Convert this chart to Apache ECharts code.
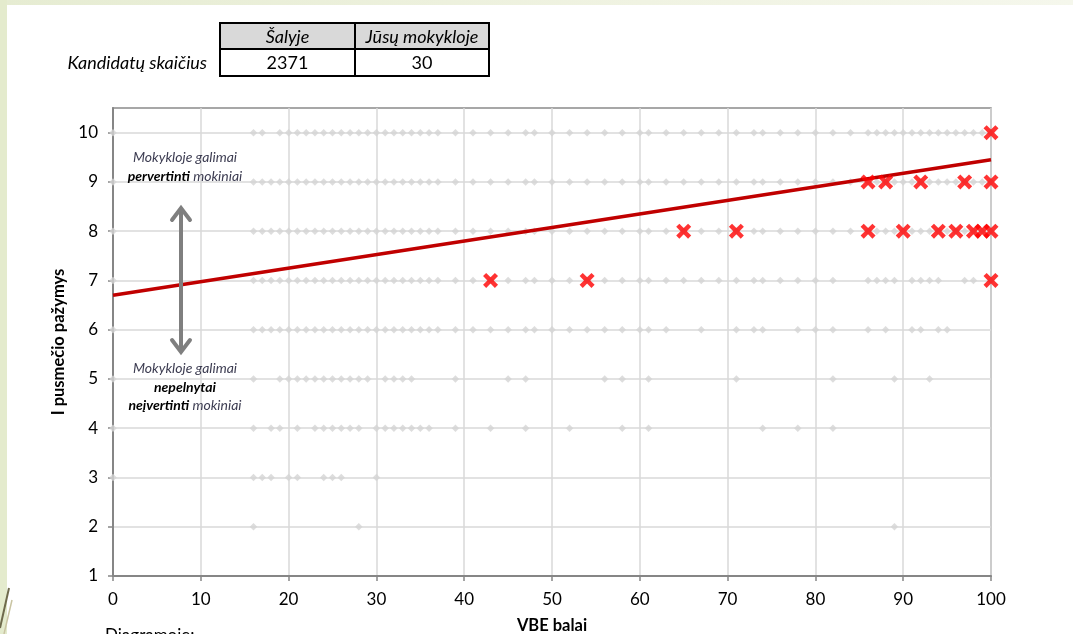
<!DOCTYPE html>
<html>
<head>
<meta charset="utf-8">
<script src="https://cdn.jsdelivr.net/npm/echarts@6/dist/echarts.min.js"></script>
<style>
  html, body { margin: 0; padding: 0; background: #ffffff; }
  #wrap { position: relative; width: 1073px; height: 634px; overflow: hidden; background: #ffffff; }
  #topband { position: absolute; left: 0; top: 0; width: 1073px; height: 5px; background: linear-gradient(90deg, #e6ecd2, #f0f3e2 60%, #f5f7ec); }
  #leftband { position: absolute; left: 0; top: 0; width: 7px; height: 634px; background: #e4ebcd; }
  #chart { position: absolute; left: 0; top: 0; width: 1073px; height: 634px; }
</style>
</head>
<body>
<div id="wrap">
  <div id="topband"></div>
  <div id="leftband"></div>
  <div id="chart"></div>
</div>
<script>
// ---- data ----
const xTicks = [0, 10, 20, 30, 40, 50, 60, 70, 80, 90, 100];
const yTicks = [1, 2, 3, 4, 5, 6, 7, 8, 9, 10];

// Country (grey) : VBE scores present for each semester grade
const grade10 = [0,16,17,19,20,21,22,23,24,25,26,27,28,29,30,31,32,33,34,35,36,37,39,41,43,45,47,48,50,52,54,56,58,60,61,63,65,67,69,71,73,74,76,78,80,82,84,86,87,88,89,90,91,92,93,94,95,96,97,98,99,100];
const grade9  = [0,16,17,18,19,20,21,22,23,24,25,26,27,28,29,30,31,32,33,34,35,36,37,39,41,43,45,47,48,50,52,54,56,58,60,61,63,65,67,69,71,73,74,76,78,80,82,84,86,87,88,89,90,91,92,93,94,95,96,97,98,99,100];
const grade8  = [0,16,17,18,19,20,21,22,23,24,25,26,27,28,29,30,31,32,33,34,35,36,37,39,41,43,45,47,48,50,52,54,56,58,60,61,63,65,67,69,71,73,74,76,78,80,82,84,86,87,88,89,90,91,92,93,94,95,96,97,98,99,100];
const grade7  = [0,16,17,18,19,20,21,22,23,24,25,26,27,28,29,30,31,32,33,34,35,36,37,39,41,43,45,47,48,50,52,54,56,58,60,61,63,65,67,69,71,73,74,76,78,80,82,86,87,88,89,91,92,93,94,97,98,100];
const grade6  = [0,16,17,18,19,20,21,22,23,24,25,26,27,28,29,30,31,32,33,34,35,36,37,39,41,43,45,47,48,50,52,54,56,58,60,61,63,67,71,73,74,78,80,82,86,88,91,92,94,95];
const grade5  = [0,16,19,20,21,22,23,24,25,26,27,28,29,31,32,33,34,39,45,47,56,58,61,71,82,89,93];
const grade4  = [0,16,18,19,21,23,24,25,26,27,28,30,31,32,33,34,35,36,39,43,47,52,58,61,74,78,82];
const grade3  = [0,16,17,18,20,21,24,25,26,30];
const grade2  = [16,28,89];

// Your school (red crosses)
const school10 = [100];
const school9  = [86,88,92,97,100];
const school8  = [65,71,86,90,94,96,98,99,100];
const school7  = [43,54,100];

// Trend line end points
const trendX = [0, 100];
const trendY = [6.70, 9.45];

// Table
const tableHead = ['Šalyje', 'Jūsų mokykloje'];
const tableRowLabel = 'Kandidatų skaičius';
const tableValues = ['2371', '30'];

// ---- build ----
const countryRows = [[10, grade10],[9, grade9],[8, grade8],[7, grade7],[6, grade6],[5, grade5],[4, grade4],[3, grade3],[2, grade2]];
const schoolRows = [[10, school10],[9, school9],[8, school8],[7, school7]];
const countryData = [];
countryRows.forEach(([g, xs]) => xs.forEach(x => countryData.push([x, g])));
const schoolData = [];
schoolRows.forEach(([g, xs]) => xs.forEach(x => schoolData.push([x, g])));
const trendData = trendX.map((x, i) => [x, trendY[i]]);

const FONT = 'Lato, "Open Sans", sans-serif';
const crossPath = 'path://M0,2.1 L2.1,0 L5,2.9 L7.9,0 L10,2.1 L7.1,5 L10,7.9 L7.9,10 L5,7.1 L2.1,10 L0,7.9 L2.9,5 Z';

const chart = echarts.init(document.getElementById('chart'), null, { renderer: 'canvas' });

// table geometry (layout)
const tL = 220, tM = 355, tR = 489, tT = 23, tMid = 49, tB = 76;
const annoColor = '#3d3d52';
const annoSize = 14;
const annoX = 185;

const option = {
  animation: false,
  backgroundColor: 'transparent',
  textStyle: { fontFamily: FONT },
  grid: {
    left: 113, right: 82, top: 108, bottom: 58,
    outerBoundsMode: 'none', containLabel: false,
    show: true, borderColor: '#8a8a8a', borderWidth: 1.5, backgroundColor: '#ffffff'
  },
  xAxis: {
    type: 'value', min: 0, max: 100, interval: 10,
    name: 'VBE balai', nameLocation: 'middle', nameGap: 41,
    nameTextStyle: { fontFamily: FONT, fontSize: 16.5, fontWeight: 'bold', color: '#000' },
    axisLine: { show: true, onZero: false, lineStyle: { color: '#868686', width: 2 } },
    axisTick: { show: true, length: 5, lineStyle: { color: '#868686', width: 1.5 } },
    axisLabel: { fontFamily: FONT, fontSize: 17, color: '#000', margin: 15 },
    splitLine: { show: true, lineStyle: { color: '#d9d9d9', width: 1.5 } }
  },
  yAxis: {
    type: 'value', min: 1, max: 10.5, interval: 1,
    name: 'I pusmečio pažymys', nameLocation: 'middle', nameGap: 32, nameRotate: 90,
    nameTextStyle: { fontFamily: FONT, fontSize: 16.5, fontWeight: 'bold', color: '#000' },
    axisLine: { show: true, onZero: false, lineStyle: { color: '#868686', width: 2 } },
    axisTick: { show: true, length: 5, customValues: yTicks, lineStyle: { color: '#868686', width: 1.5 } },
    axisLabel: { fontFamily: FONT, fontSize: 17, color: '#000', margin: 15, customValues: yTicks,
      formatter: v => (v > 10 ? '' : String(v)) },
    splitLine: { show: true, lineStyle: { color: '#d9d9d9', width: 1.5 } }
  },
  series: [
    {
      name: 'Šalyje', type: 'scatter', data: countryData,
      symbol: 'diamond', symbolSize: 7.5, clip: false,
      itemStyle: { color: '#d4d4d4' }, z: 2
    },
    {
      name: 'Trend', type: 'line', data: trendData, showSymbol: false, symbol: 'none',
      lineStyle: { color: '#c00000', width: 3.5 }, z: 3, silent: true
    },
    {
      name: 'Jūsų mokykloje', type: 'scatter', data: schoolData,
      symbol: crossPath, symbolSize: 15, clip: false,
      itemStyle: { color: '#ff0000' }, z: 4
    }
  ],
  graphic: [
    // table
    { type: 'rect', shape: { x: tL, y: tT, width: tR - tL, height: tMid - tT }, style: { fill: '#d9d9d9' }, z: 10 },
    { type: 'rect', shape: { x: tL, y: tT, width: tR - tL, height: tB - tT }, style: { fill: 'none', stroke: '#000', lineWidth: 2 }, z: 11 },
    { type: 'line', shape: { x1: tL, y1: tMid, x2: tR, y2: tMid }, style: { stroke: '#000', lineWidth: 2 }, z: 11 },
    { type: 'line', shape: { x1: tM, y1: tT, x2: tM, y2: tB }, style: { stroke: '#000', lineWidth: 2 }, z: 11 },
    { type: 'text', x: (tL + tM) / 2, y: (tT + tMid) / 2 + 1, style: { text: tableHead[0], fontFamily: FONT, fontSize: 18, fontStyle: 'italic', fill: '#000', align: 'center', verticalAlign: 'middle' }, z: 12 },
    { type: 'text', x: (tM + tR) / 2, y: (tT + tMid) / 2 + 1, style: { text: tableHead[1], fontFamily: FONT, fontSize: 18, fontStyle: 'italic', fill: '#000', align: 'center', verticalAlign: 'middle' }, z: 12 },
    { type: 'text', x: (tL + tM) / 2, y: (tMid + tB) / 2 + 1, style: { text: tableValues[0], fontFamily: FONT, fontSize: 18, fill: '#000', align: 'center', verticalAlign: 'middle' }, z: 12 },
    { type: 'text', x: (tM + tR) / 2, y: (tMid + tB) / 2 + 1, style: { text: tableValues[1], fontFamily: FONT, fontSize: 18, fill: '#000', align: 'center', verticalAlign: 'middle' }, z: 12 },
    { type: 'text', x: 207, y: (tMid + tB) / 2 + 1, style: { text: tableRowLabel, fontFamily: FONT, fontSize: 18, fontStyle: 'italic', fill: '#000', align: 'right', verticalAlign: 'middle' }, z: 12 },

    // annotation texts
    { type: 'text', x: annoX, y: 157, z: 20, style: {
        text: 'Mokykloje galimai', fontFamily: FONT, fontSize: annoSize, fontStyle: 'italic', fill: annoColor, align: 'center', verticalAlign: 'middle' } },
    { type: 'text', x: annoX, y: 176, z: 20, style: {
        text: '{b|pervertinti} {n|mokiniai}', align: 'center', verticalAlign: 'middle',
        rich: { b: { fontFamily: FONT, fontSize: annoSize, fontStyle: 'italic', fontWeight: 'bold', fill: '#000' },
                n: { fontFamily: FONT, fontSize: annoSize, fontStyle: 'italic', fill: annoColor } } } },
    { type: 'text', x: annoX, y: 368, z: 20, style: {
        text: 'Mokykloje galimai', fontFamily: FONT, fontSize: annoSize, fontStyle: 'italic', fill: annoColor, align: 'center', verticalAlign: 'middle' } },
    { type: 'text', x: annoX, y: 387, z: 20, style: {
        text: 'nepelnytai', fontFamily: FONT, fontSize: annoSize, fontStyle: 'italic', fontWeight: 'bold', fill: '#000', align: 'center', verticalAlign: 'middle' } },
    { type: 'text', x: annoX, y: 405, z: 20, style: {
        text: '{b|neįvertinti} {n|mokiniai}', align: 'center', verticalAlign: 'middle',
        rich: { b: { fontFamily: FONT, fontSize: annoSize, fontStyle: 'italic', fontWeight: 'bold', fill: '#000' },
                n: { fontFamily: FONT, fontSize: annoSize, fontStyle: 'italic', fill: annoColor } } } },

    // double arrow
    { type: 'line', z: 20, shape: { x1: 181, y1: 209, x2: 181, y2: 351 }, style: { stroke: '#7f7f7f', lineWidth: 4 } },
    { type: 'polyline', z: 20, shape: { points: [[172, 220], [181, 208], [190, 220]] }, style: { stroke: '#7f7f7f', lineWidth: 4, fill: 'none', lineJoin: 'miter', lineCap: 'round' } },
    { type: 'polyline', z: 20, shape: { points: [[172, 340], [181, 352], [190, 340]] }, style: { stroke: '#7f7f7f', lineWidth: 4, fill: 'none', lineJoin: 'miter', lineCap: 'round' } },

    // text cut at the bottom
    { type: 'text', x: 105, y: 627, z: 20, style: { text: 'Diagramoje:', fontFamily: FONT, fontSize: 17, fill: '#000', align: 'left', verticalAlign: 'top' } },

    // slide decoration bottom-left
    { type: 'line', z: 1, shape: { x1: 0, y1: 628, x2: 9, y2: 588 }, style: { stroke: '#6e6a4c', lineWidth: 2 } },
    { type: 'line', z: 1, shape: { x1: 4, y1: 634, x2: 12, y2: 600 }, style: { stroke: '#c9c4a2', lineWidth: 1.5 } }
  ]
};
chart.setOption(option);
</script>
</body>
</html>
